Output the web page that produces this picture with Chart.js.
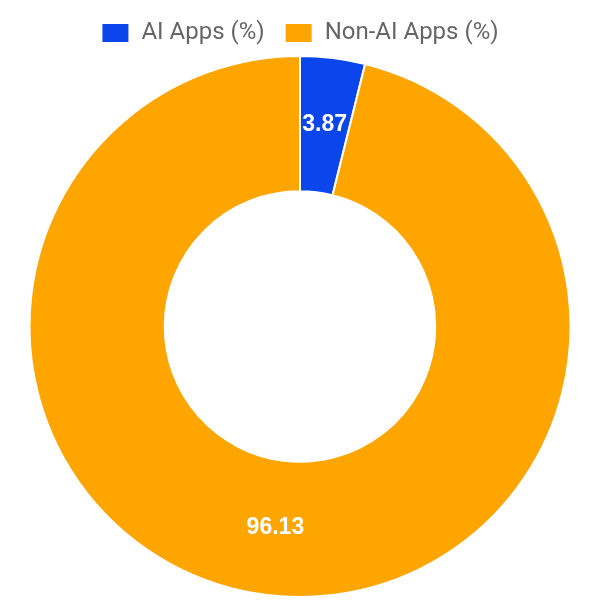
<!DOCTYPE html>
<html lang="en">
<head>
    <meta charset="UTF-8">
    <title>AI vs Non-AI Apps</title>
    <script src="https://cdn.jsdelivr.net/npm/chart.js"></script>
    <style>
        body {
            margin: 0;
            background: #fff;
        }
        .wrap {
            width: 600px;
            height: 600px;
        }
    </style>
</head>
<body>
    <div class="wrap">
        <canvas id="appsChart"></canvas>
    </div>

    <script>
        const labels = ['AI Apps (%)', 'Non-AI Apps (%)'];
        const shares = [3.87, 96.13];
        const colors = ['#0a46ec', '#ffa500'];

        // draw the value in the middle of each slice (no datalabels plugin offline)
        const sliceLabels = {
            id: 'sliceLabels',
            afterDatasetsDraw(chart) {
                const ctx = chart.ctx;
                const meta = chart.getDatasetMeta(0);
                ctx.save();
                ctx.fillStyle = '#fff';
                ctx.font = 'bold 23px "Liberation Sans", Arial, sans-serif';
                ctx.textAlign = 'center';
                ctx.textBaseline = 'middle';
                meta.data.forEach((arc, i) => {
                    const pos = arc.tooltipPosition();
                    ctx.fillText(shares[i].toFixed(2), pos.x, pos.y);
                });
                ctx.restore();
            }
        };

        new Chart(document.getElementById('appsChart'), {
            type: 'doughnut',
            data: {
                labels: labels,
                datasets: [{
                    data: shares,
                    backgroundColor: colors,
                    borderColor: '#fff',
                    borderWidth: 2
                }]
            },
            options: {
                responsive: true,
                maintainAspectRatio: false,
                animation: false,
                cutout: '50%',
                layout: { padding: { top: 1, bottom: 2 } },
                plugins: {
                    legend: {
                        position: 'top',
                        labels: {
                            color: '#666',
                            font: { family: 'Roboto, sans-serif', size: 24 },
                            boxWidth: 28,
                            boxHeight: 20,
                            padding: 20
                        }
                    },
                    tooltip: { enabled: false }
                }
            },
            plugins: [sliceLabels]
        });
    </script>
</body>
</html>
